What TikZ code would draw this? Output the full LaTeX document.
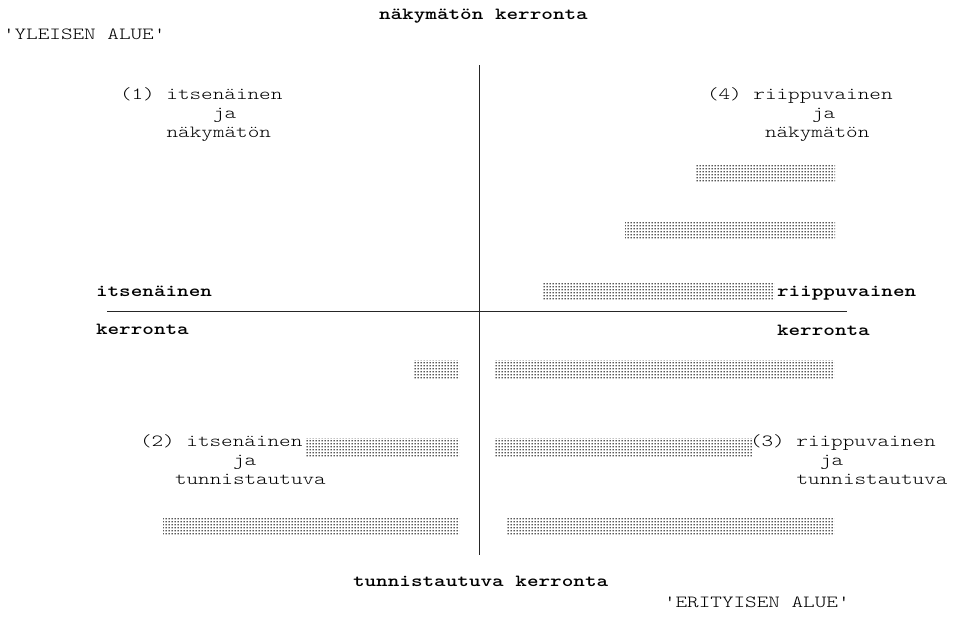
\documentclass[tikz,border=0pt]{standalone}
\usepackage{graphicx}
\usetikzlibrary{patterns}
\pgfdeclarepatternformonly{bardots}{\pgfpointorigin}{\pgfqpoint{3pt}{3.4pt}}{\pgfqpoint{3pt}{3.4pt}}{%
  \pgfpathrectangle{\pgfqpoint{0.8pt}{0.8pt}}{\pgfqpoint{1.4pt}{1.4pt}}\pgfusepath{fill}}
\newcommand\sttxt[1]{\scalebox{1.3}[1]{#1}}
\tikzset{
  lbl/.style={anchor=base west, inner sep=0pt, outer sep=0pt,
    font=\fontsize{17}{20}\selectfont\ttfamily\fontseries{l}\selectfont},
  blbl/.style={anchor=base west, inner sep=0pt, outer sep=0pt,
    font=\fontsize{17}{20}\selectfont\ttfamily\bfseries},
  bar/.style={pattern=bardots, pattern color=black},
  axis/.style={line width=0.9pt, black!85}
}
\begin{document}
\begin{tikzpicture}[x=1pt,y=-1pt]
\useasboundingbox (0,0) rectangle (955,616);
% axes
\coordinate (vt) at (479,65);
\coordinate (vb) at (479,555);
\coordinate (hl) at (107,311.5);
\coordinate (hr) at (847,311.5);
\draw[axis] (vt) -- (vb);
\draw[axis] (hl) -- (hr);
% titles
\node[blbl] (ttop) at (379,19) {\sttxt{näkymätön kerronta}};
\node[blbl] (tbot) at (353,586) {\sttxt{tunnistautuva kerronta}};
\node[lbl] (yle) at (3,39) {\sttxt{'YLEISEN ALUE'}};
\node[lbl] (eri) at (664,607) {\sttxt{'ERITYISEN ALUE'}};
\node[blbl] (lit) at (96,296) {\sttxt{itsenäinen}};
\node[blbl] (lke) at (96,334) {\sttxt{kerronta}};
\node[blbl] (rri) at (777,296) {\sttxt{riippuvainen}};
\node[blbl] (rke) at (777,335) {\sttxt{kerronta}};
% quadrant 1
\node[lbl] (q1a) at (120,99) {\sttxt{(1) itsenäinen}};
\node[lbl] (q1b) at (213,118) {\sttxt{ja}};
\node[lbl] (q1c) at (166.6,137) {\sttxt{näkymätön}};
% quadrant 4
\node[lbl] (q4a) at (707,99) {\sttxt{(4) riippuvainen}};
\node[lbl] (q4b) at (812,118) {\sttxt{ja}};
\node[lbl] (q4c) at (765,137) {\sttxt{näkymätön}};
% quadrant 2
\node[lbl] (q2a) at (140,446) {\sttxt{(2) itsenäinen}};
\node[lbl] (q2b) at (233,465) {\sttxt{ja}};
\node[lbl] (q2c) at (175,484) {\sttxt{tunnistautuva}};
% quadrant 3
\node[lbl] (q3a) at (750,446) {\sttxt{(3) riippuvainen}};
\node[lbl] (q3b) at (820,465) {\sttxt{ja}};
\node[lbl] (q3c) at (796.6,484) {\sttxt{tunnistautuva}};
% bars
\path[bar] (695,165) rectangle (835,182);
\path[bar] (625,222) rectangle (835,239);
\path[bar] (542,282) rectangle (774,299);
\path[bar] (413,360) rectangle (459,378);
\path[bar] (495,360) rectangle (834,378);
\path[bar] (305,438) rectangle (459,456);
\path[bar] (495,438) rectangle (752,456);
\path[bar] (163,518) rectangle (459,535);
\path[bar] (507,518) rectangle (834,535);
\end{tikzpicture}
\end{document}
